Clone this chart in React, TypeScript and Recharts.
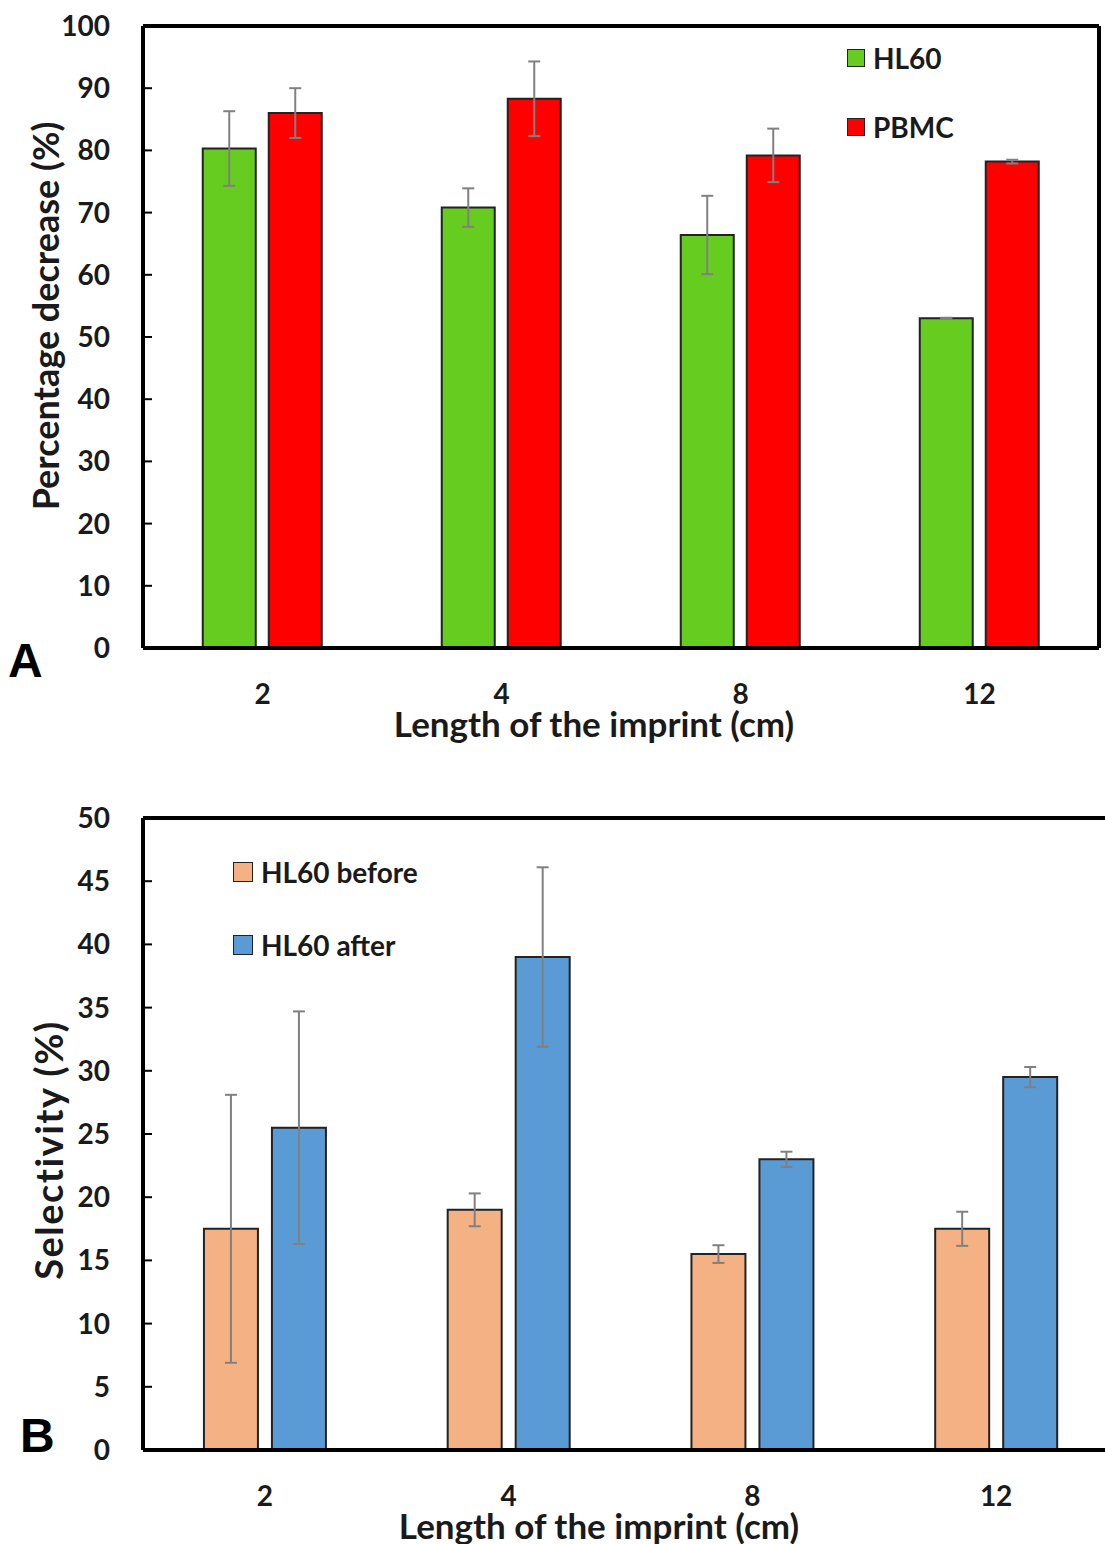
import React from 'react';
import { BarChart, Bar, XAxis, YAxis, ErrorBar, Legend } from 'recharts';

// ---------- data ----------
const lengths = ['2', '4', '8', '12'];

const seriesNamesA = ['HL60', 'PBMC'];
const hl60Decrease = [80.3, 70.8, 66.4, 53.0];
const hl60DecreaseErr = [6.0, 3.1, 6.3, 0.1];
const pbmcDecrease = [86.0, 88.3, 79.2, 78.2];
const pbmcDecreaseErr = [4.0, 6.0, 4.3, 0.3];
const decreaseTicks = [0, 10, 20, 30, 40, 50, 60, 70, 80, 90, 100];

const seriesNamesB = ['HL60 before', 'HL60 after'];
const hl60Before = [17.5, 19.0, 15.5, 17.5];
const hl60BeforeErr = [10.6, 1.3, 0.7, 1.35];
const hl60After = [25.5, 39.0, 23.0, 29.5];
const hl60AfterErr = [9.2, 7.1, 0.6, 0.8];
const selectivityTicks = [0, 5, 10, 15, 20, 25, 30, 35, 40, 45, 50];

const dataA = lengths.map((cat, i) => ({
  cat,
  hl60: hl60Decrease[i],
  hl60Err: hl60DecreaseErr[i],
  pbmc: pbmcDecrease[i],
  pbmcErr: pbmcDecreaseErr[i],
}));

const dataB = lengths.map((cat, i) => ({
  cat,
  before: hl60Before[i],
  beforeErr: hl60BeforeErr[i],
  after: hl60After[i],
  afterErr: hl60AfterErr[i],
}));

// ---------- styles ----------
const FONT = 'Lato, "Open Sans", "DejaVu Sans", sans-serif';
const TEXT = '#1a1a1a';
const Y_TICK_MARGIN = 33;
const X_TICK_MARGIN = 36;
const TICK_FONT = 28;

const YTick = (props: any) => {
  const { x, y, payload } = props;
  return (
    <g>
      <line x1={x + Y_TICK_MARGIN} x2={x + Y_TICK_MARGIN + 9} y1={y} y2={y} stroke="#000" strokeWidth={2} />
      <text x={x} y={y} dy="0.36em" textAnchor="end" fontFamily={FONT} fontWeight={700} fontSize={TICK_FONT} fill={TEXT}>
        {payload.value}
      </text>
    </g>
  );
};

const XTick = (props: any) => {
  const { x, y, payload } = props;
  return (
    <text x={x} y={y} dy="0.72em" textAnchor="middle" fontFamily={FONT} fontWeight={700} fontSize={TICK_FONT} fill={TEXT}>
      {payload.value}
    </text>
  );
};

const makeLegend = (order: string[], gap: number, box: number) => (props: any) => {
  const items = [...(props.payload || [])].sort(
    (a: any, b: any) => order.indexOf(a.value) - order.indexOf(b.value)
  );
  return (
    <div style={{ display: 'flex', flexDirection: 'column', gap }}>
      {items.map((p: any) => (
        <div key={p.value} style={{ display: 'flex', alignItems: 'center', height: 30 }}>
          <span
            style={{
              width: box,
              height: box,
              background: p.color,
              border: '1.5px solid #222',
              boxSizing: 'border-box',
              marginRight: 8,
              display: 'inline-block',
            }}
          />
          <span style={{ fontFamily: FONT, fontWeight: 700, fontSize: 28, color: TEXT, whiteSpace: 'nowrap' }}>
            {p.value}
          </span>
        </div>
      ))}
    </div>
  );
};

const abs = (s: React.CSSProperties): React.CSSProperties => ({ position: 'absolute', ...s });

const titleStyle: React.CSSProperties = {
  fontFamily: FONT,
  fontWeight: 700,
  color: TEXT,
  whiteSpace: 'nowrap',
  lineHeight: 1,
};

const axisLine = { stroke: '#000', strokeWidth: 4 };

export default function App() {
  return (
    <div style={{ position: 'absolute', left: 0, top: 0, width: 1105, height: 1544, overflow: 'hidden', background: '#fff' }}>
      {/* Chart A */}
      <div style={abs({ left: 0, top: 0 })}>
        <BarChart
          width={1105}
          height={760}
          data={dataA}
          margin={{ top: 25, right: 5, left: 142, bottom: 52 }}
          barCategoryGap="25%"
          barGap={13}
        >
          <XAxis
            dataKey="cat"
            height={60}
            tickLine={false}
            tickSize={0}
            tickMargin={X_TICK_MARGIN}
            axisLine={axisLine}
            tick={<XTick />}
            interval={0}
          />
          <XAxis xAxisId="top" orientation="top" dataKey="cat" height={1} tick={false} tickLine={false} axisLine={axisLine} />
          <YAxis
            domain={[0, 100]}
            ticks={decreaseTicks}
            width={1}
            tickLine={false}
            tickSize={0}
            tickMargin={Y_TICK_MARGIN}
            axisLine={axisLine}
            tick={<YTick />}
            interval={0}
          />
          <YAxis yAxisId="right" orientation="right" domain={[0, 100]} width={1} tick={false} tickLine={false} axisLine={axisLine} />
          <Legend
            layout="vertical"
            align="center"
            verticalAlign="middle"
            content={makeLegend(seriesNamesA, 39, 18)}
            wrapperStyle={{ position: 'absolute', left: 847, top: 43, width: 'auto', height: 'auto' }}
          />
          <Bar dataKey="hl60" name={seriesNamesA[0]} fill="#66cc1f" stroke="#222" strokeWidth={2} isAnimationActive={false}>
            <ErrorBar dataKey="hl60Err" direction="y" width={6} stroke="#808080" strokeWidth={2} />
          </Bar>
          <Bar dataKey="pbmc" name={seriesNamesA[1]} fill="#ff0000" stroke="#222" strokeWidth={2} isAnimationActive={false}>
            <ErrorBar dataKey="pbmcErr" direction="y" width={6} stroke="#808080" strokeWidth={2} />
          </Bar>
        </BarChart>
      </div>

      <div style={abs({ ...titleStyle, left: 45, top: 316, fontSize: 36, transform: 'translate(-50%, -50%) rotate(-90deg)' })}>
        Percentage decrease (%)
      </div>
      <div style={abs({ ...titleStyle, left: 594, top: 723, fontSize: 35, transform: 'translate(-50%, -50%)' })}>
        Length of the imprint (cm)
      </div>
      <div style={abs({ left: 8, top: 637, fontFamily: '"Liberation Sans", Arial, sans-serif', fontWeight: 700, fontSize: 48, lineHeight: 1, color: '#000' })}>
        A
      </div>

      {/* Chart B */}
      <div style={abs({ left: 0, top: 780 })}>
        <BarChart
          width={1125}
          height={764}
          data={dataB}
          margin={{ top: 37, right: 7, left: 142, bottom: 34 }}
          barCategoryGap="25%"
          barGap={14}
        >
          <XAxis
            dataKey="cat"
            height={60}
            tickLine={false}
            tickSize={0}
            tickMargin={X_TICK_MARGIN}
            axisLine={axisLine}
            tick={<XTick />}
            interval={0}
          />
          <XAxis xAxisId="top" orientation="top" dataKey="cat" height={1} tick={false} tickLine={false} axisLine={axisLine} />
          <YAxis
            domain={[0, 50]}
            ticks={selectivityTicks}
            width={1}
            tickLine={false}
            tickSize={0}
            tickMargin={Y_TICK_MARGIN}
            axisLine={axisLine}
            tick={<YTick />}
            interval={0}
          />
          <Legend
            layout="vertical"
            align="center"
            verticalAlign="middle"
            content={makeLegend(seriesNamesB, 43, 20)}
            wrapperStyle={{ position: 'absolute', left: 233, top: 77, width: 'auto', height: 'auto' }}
          />
          <Bar dataKey="before" name={seriesNamesB[0]} fill="#f4b183" stroke="#222" strokeWidth={2} isAnimationActive={false}>
            <ErrorBar dataKey="beforeErr" direction="y" width={6} stroke="#808080" strokeWidth={2} />
          </Bar>
          <Bar dataKey="after" name={seriesNamesB[1]} fill="#5b9bd5" stroke="#222" strokeWidth={2} isAnimationActive={false}>
            <ErrorBar dataKey="afterErr" direction="y" width={6} stroke="#808080" strokeWidth={2} />
          </Bar>
        </BarChart>
      </div>

      <div style={abs({ ...titleStyle, left: 48, top: 1150, fontSize: 38, letterSpacing: 1.5, transform: 'translate(-50%, -50%) rotate(-90deg)' })}>
        Selectivity (%)
      </div>
      <div style={abs({ ...titleStyle, left: 599, top: 1525, fontSize: 35, transform: 'translate(-50%, -50%)' })}>
        Length of the imprint (cm)
      </div>
      <div style={abs({ left: 20, top: 1412, fontFamily: '"Liberation Sans", Arial, sans-serif', fontWeight: 700, fontSize: 48, lineHeight: 1, color: '#000' })}>
        B
      </div>
    </div>
  );
}
